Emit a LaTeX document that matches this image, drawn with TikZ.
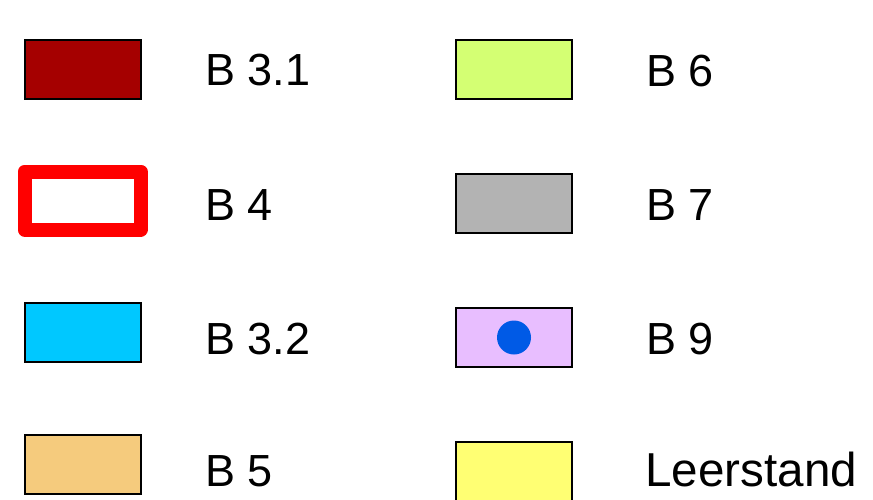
\documentclass[tikz,border=0pt]{standalone}
\usepackage{fontspec}
\setmainfont{Liberation Sans}
\usepackage{xcolor}
\usetikzlibrary{positioning}
\definecolor{darkred}{HTML}{A50000}
\definecolor{skyblue}{HTML}{00C8FF}
\definecolor{sand}{HTML}{F5CB7D}
\definecolor{lime}{HTML}{D4FF73}
\definecolor{midgray}{HTML}{B3B3B3}
\definecolor{lilac}{HTML}{E8BEFF}
\definecolor{dotblue}{HTML}{005AE6}
\definecolor{paleyellow}{HTML}{FFFF73}
\tikzstyle{swatch} = [
    rectangle,
    minimum width=58pt,
    minimum height=29.5pt,
    inner sep=0pt,
    draw=black,
    line width=1pt
]
\tikzstyle{outline} = [
    rectangle,
    minimum width=58pt,
    minimum height=29pt,
    inner sep=0pt,
    draw=red,
    line width=7pt,
    line join=round,
    fill=white
]
\tikzstyle{legendtext} = [
    anchor=base west,
    inner sep=0pt,
    font=\fontsize{22.5}{27}\selectfont
]

\begin{document}
\begin{tikzpicture}[
    x=0.5pt,
    y=-0.5pt
]
\useasboundingbox (0,0) rectangle (873,499);

\node (b31) [swatch, fill=darkred] at (82.5,69) {};
\node (b4) [outline] at (82.5,200.5) {};
\node (b32) [swatch, fill=skyblue] at (82.5,332.5) {};
\node (b5) [swatch, fill=sand] at (82.5,464) {};

\node (b6) [swatch, fill=lime] at (514,69) {};
\node (b7) [swatch, fill=midgray] at (514,203) {};
\node (b9) [swatch, fill=lilac] at (514,337.5) {};
\node (leer) [swatch, fill=paleyellow] at (514,471.5) {};

\fill [dotblue] (b9.center) circle (8.5pt);

\node (t31) [legendtext] at (205,85) {B 3.1};
\node (t4) [legendtext] at (205,220) {B 4};
\node (t32) [legendtext] at (205,354) {B 3.2};
\node (t5) [legendtext] at (205,486) {B 5};

\node (t6) [legendtext] at (646,86) {B 6};
\node (t7) [legendtext] at (646,220) {B 7};
\node (t9) [legendtext] at (646,354) {B 9};
\node (tleer) [legendtext, font=\fontsize{23.8}{28}\selectfont] at (645,486) {Leerstand};

\end{tikzpicture}
\end{document}
